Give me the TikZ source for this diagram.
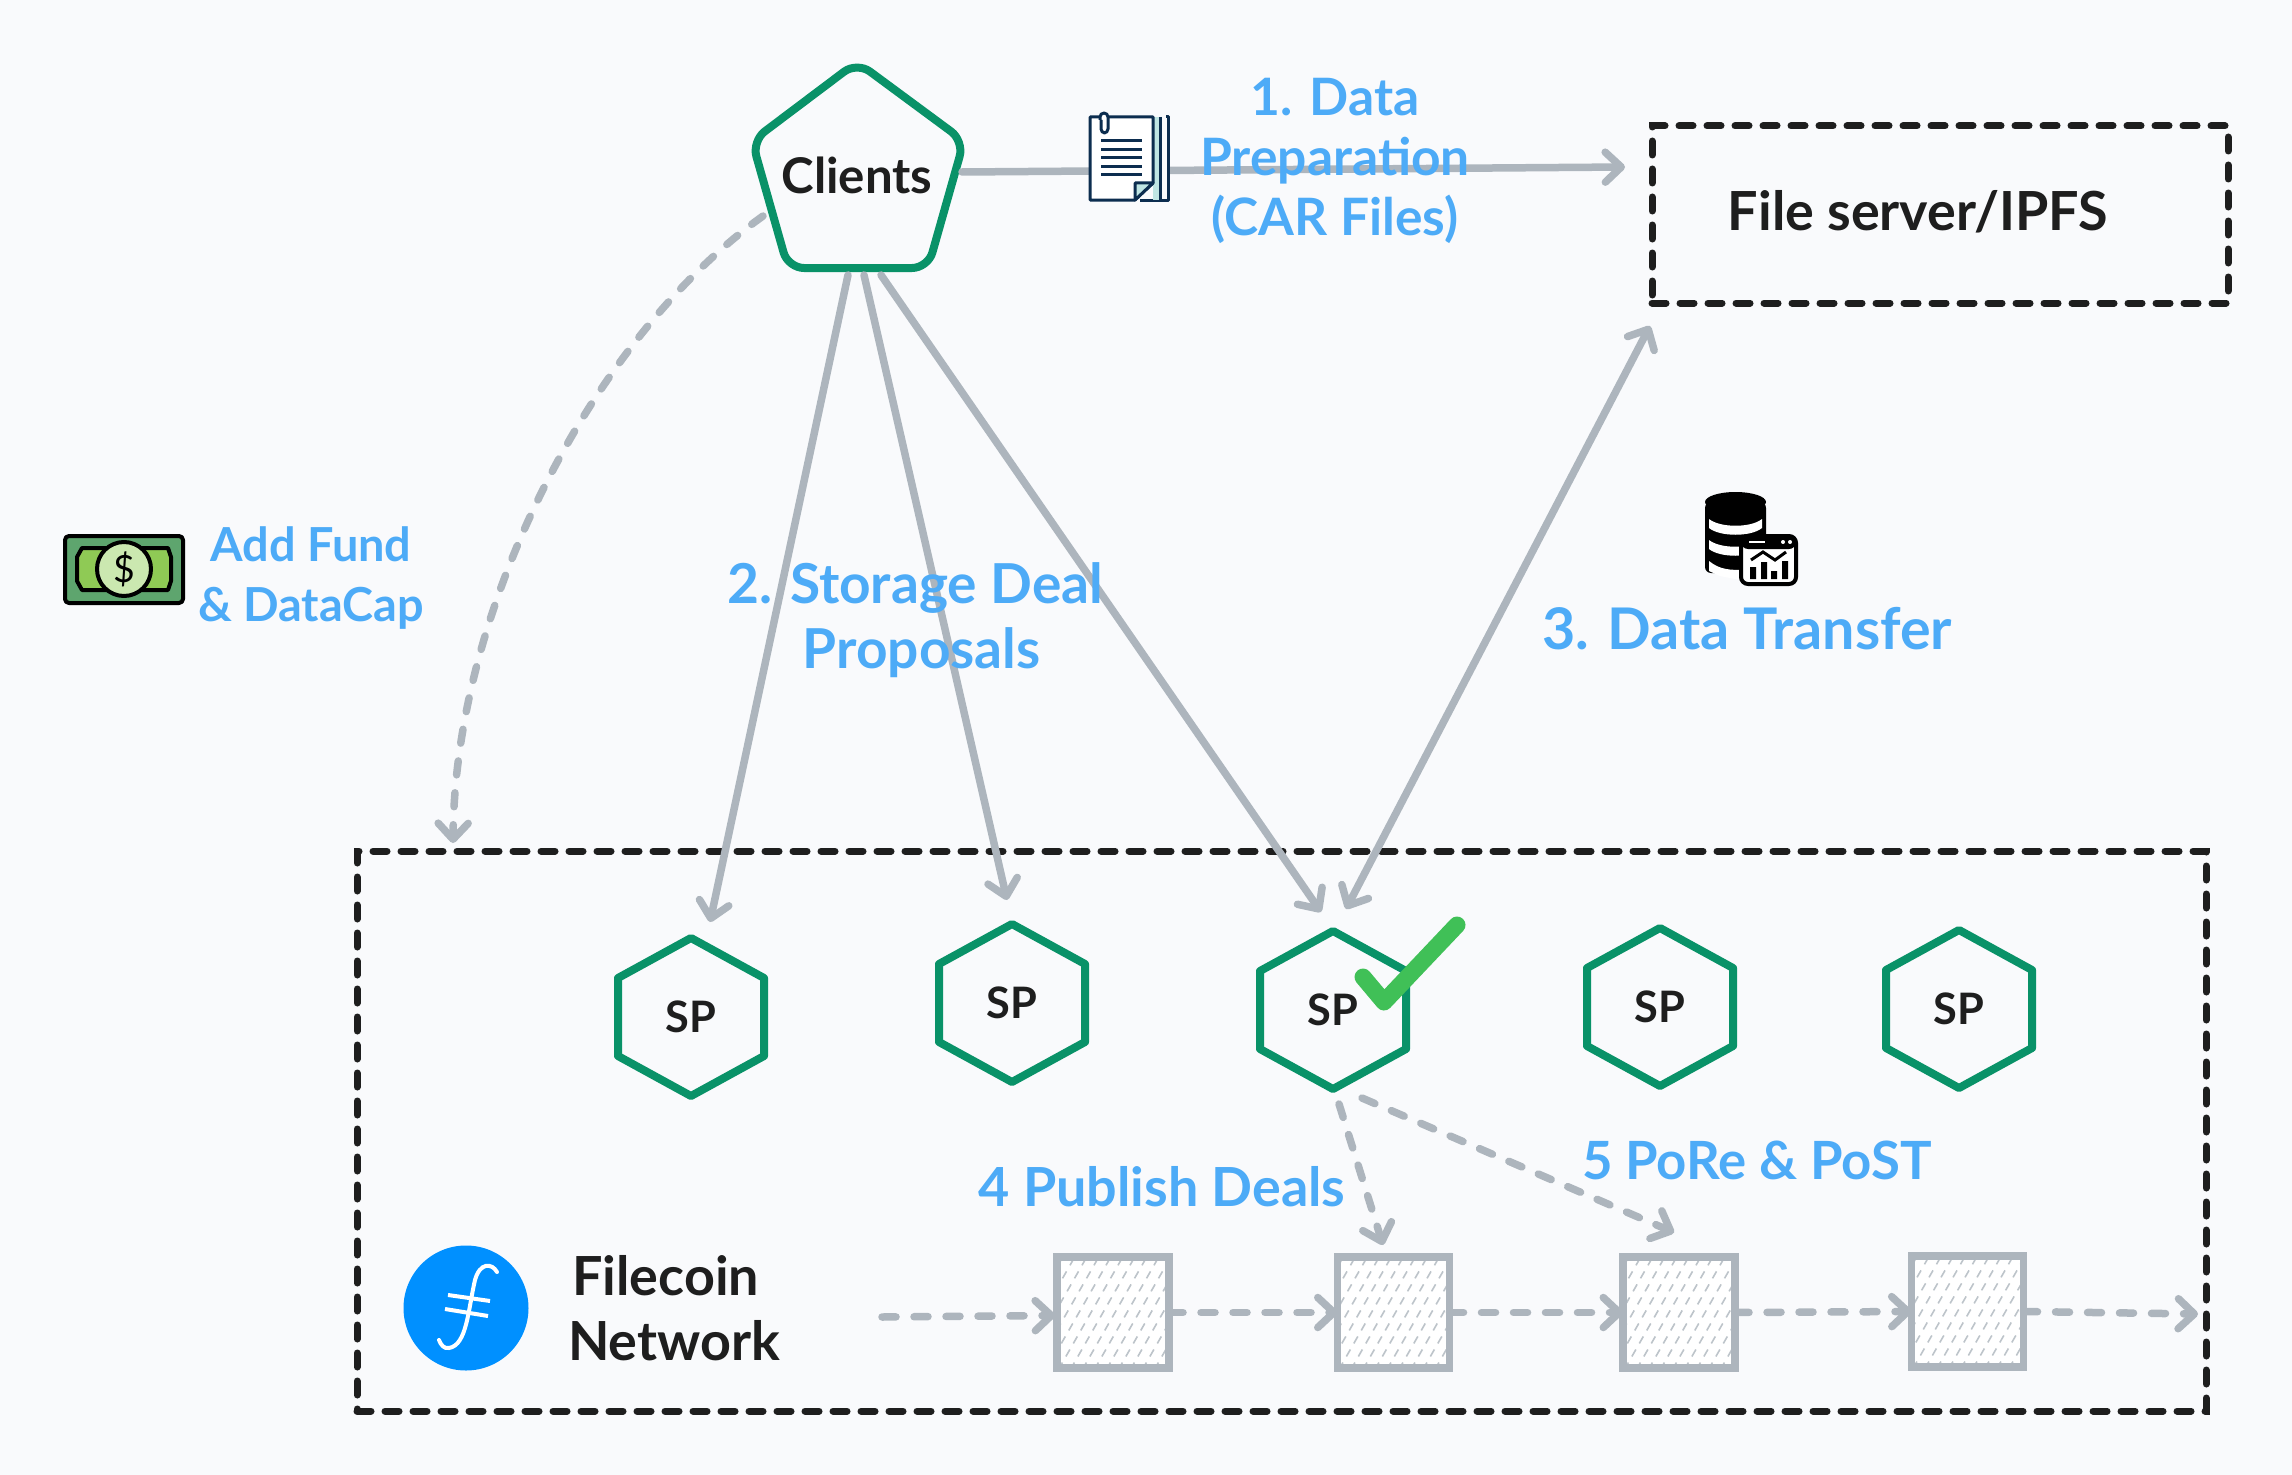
\documentclass[tikz,border=0pt]{standalone}
\usepackage{fontspec}
\setmainfont{Lato}[BoldFont={Lato Bold}]
\usetikzlibrary{arrows.meta,calc}
\definecolor{bgc}{HTML}{F9FAFC}
\definecolor{greenc}{HTML}{099268}
\definecolor{greyc}{HTML}{ADB5BD}
\definecolor{inkc}{HTML}{1E1E1E}
\definecolor{bluec}{HTML}{4DABF7}
\definecolor{navyc}{HTML}{0C2D4F}
\definecolor{tealc}{HTML}{BFE5E3}
\definecolor{fcblue}{HTML}{0090FF}
\definecolor{checkc}{HTML}{40C057}
\definecolor{billdark}{RGB}{94,165,110}
\definecolor{billmid}{RGB}{143,202,85}
\definecolor{billlight}{RGB}{203,232,176}
\def\px{0.3mm}
\tikzset{
  flow/.style={draw=greyc,line width=7.5*\px,line cap=round,line join=round,
    -{Straight Barb[length=16*\px,width=30*\px,line cap=round,line join=round]}},
  flowboth/.style={flow,{Straight Barb[length=16*\px,width=30*\px,line cap=round,line join=round]}-{Straight Barb[length=16*\px,width=30*\px,line cap=round,line join=round]}},
  dashflow/.style={flow,dash pattern=on 14*\px off 18*\px},
  frame/.style={draw=inkc,line width=7*\px,line cap=round,dash pattern=on 14*\px off 14*\px,outer sep=0pt,inner sep=0pt},
  hexline/.style={draw=greenc,line width=8*\px,line join=round,fill=bgc},
  sptext/.style={inner sep=0pt,outer sep=0pt,text=inkc,font=\bfseries\fontsize{37}{40}\selectfont,minimum width=146*\px,minimum height=158*\px},
  inktext/.style={text=inkc,font=\bfseries\fontsize{46}{55}\selectfont,align=center,inner sep=0pt},
  bluetext/.style={text=bluec,font=\bfseries\fontsize{44}{51}\selectfont,align=center,inner sep=0pt},
  chainblock/.style={draw=greyc,line width=7.5*\px,fill=white,minimum width=112*\px,minimum height=111*\px,outer sep=0pt,inner sep=0pt,
    path picture={\foreach \i in {-130,-118,...,130}{
      \draw[greyc!80,line width=1.6*\px,dash pattern=on 8*\px off 7*\px]
        ($(path picture bounding box.center)+(\i-40,70)$) -- ($(path picture bounding box.center)+(\i+40,-70)$);}}},
}
\newcommand{\hexsp}[2]{%
  \node[sptext] (#1) at (#2) {};
  \draw[hexline] (#1.north) -- ($(#1.north east)+(0,40)$) -- ($(#1.south east)+(0,-40)$) -- (#1.south)
     -- ($(#1.south west)+(0,-40)$) -- ($(#1.north west)+(0,40)$) -- cycle;
  \node[sptext] at (#1) {SP};}
\begin{document}
\begin{tikzpicture}[x=\px,y=-\px]
\fill[bgc] (0,0) rectangle (2292,1475);
\useasboundingbox (0,0) rectangle (2292,1475);

% frames
\node[frame,minimum width=576*\px,minimum height=177*\px] (fileserver) at (1940,214.5) {};
\node[frame,minimum width=1849*\px,minimum height=560*\px] (network) at (1281.5,1131) {};
\node[inktext] (fstext) at (1918,212) {File server/IPFS};

% clients
\node[inktext,minimum width=150*\px] (clients) at (857,175) {};
\draw[draw=greenc,line width=8*\px,rounded corners=16*\px,line join=round]
  (857,62) -- (964,141) -- (928,268) -- (788,268) -- (752,141) -- cycle;
\node[inktext,font=\bfseries\fontsize{42}{50}\selectfont] at (clients) {Clients};

% service providers
\hexsp{sp1}{691,1017}
\hexsp{sp2}{1012,1003}
\hexsp{sp3}{1333,1010}
\hexsp{sp4}{1660,1007}
\hexsp{sp5}{1959,1009}

% blocks
\node[chainblock] (b1) at (1113,1312.5) {};
\node[chainblock] (b2) at (1393.5,1312.5) {};
\node[chainblock] (b3) at (1679,1312.5) {};
\node[chainblock] (b4) at (1967.5,1311.5) {};
\coordinate (chainstart) at (882,1317);
\coordinate (chainend) at (2198,1314);

% connectors
\draw[flow] ([shift={(105,-3)}]clients.center) -- ([shift={(-27,-47.5)}]fileserver.west);
\draw[flow] ([shift={(-9,100)}]clients.center) -- ([shift={(19,-95)}]sp1.center);
\draw[flow] ([shift={(7,100)}]clients.center) -- ([shift={(-5,-103)}]sp2.center);
\draw[flow] ([shift={(24,100)}]clients.center) -- ([shift={(-12,-98)}]sp3.center);
\draw[flowboth] ([shift={(-290,111.5)}]fileserver.center) -- ([shift={(13,-101)}]sp3.center);
\draw[dashflow] ([shift={(-94,41)}]clients.center) .. controls (590,340) and (455,610) .. ([shift={(-828.5,-288)}]network.center);
\draw[dashflow] ([shift={(6,94)}]sp3.center) -- ([shift={(-10.5,-67.5)}]b2.center);
\draw[dashflow] ([shift={(29,88)}]sp3.center) -- ([shift={(-5,-80)}]b3.center);
\draw[dashflow] (chainstart) -- ([shift={(-2,3)}]b1.west);
\draw[dashflow] (b1.east) -- (b2.west);
\draw[dashflow] (b2.east) -- (b3.west);
\draw[dashflow] (b3.east) -- (b4.west);
\draw[dashflow] (b4.east) -- (chainend);

% check mark
\draw[draw=checkc,line width=17*\px,line cap=round,line join=round] (1363,977) -- (1384,1002) -- (1457,925);

% document icon
\begin{scope}[navyc,line width=3*\px,line join=round]
  \fill[bgc] (1089,116) rectangle (1169,201);
  \draw (1166,117) -- (1168,117) -- (1168,200) -- (1140,200);
  \fill[tealc] (1153,117) rectangle (1160,200);
  \draw (1160,117) -- (1160,200);
  \draw[fill=white] (1090,117) -- (1153,117) -- (1153,183) -- (1135,200) -- (1090,200) -- cycle;
  \draw[fill=tealc] (1153,183) -- (1135,183) -- (1135,200) -- cycle;
  \foreach \ly in {141,149.5,158,167,175} \draw (1101,\ly) -- (1142,\ly);
  \draw[fill=white,rounded corners=4*\px] (1100,120) -- (1100,113) -- (1108,113) -- (1108,133) -- (1101,133) -- (1101,120);
\end{scope}

% money icon
\begin{scope}[line width=4*\px,line join=round]
  \draw[draw=black,fill=billdark,rounded corners=4*\px] (65,536) rectangle (183,603);
  \draw[draw=black,fill=billmid] (82,548) -- (168,548) -- (171,557) -- (171,581) -- (168,590) -- (82,590) -- (77,581) -- (77,557) -- cycle;
  \draw[draw=black,fill=billlight] (124,569) circle (27);
\end{scope}
\node[inner sep=0pt,text=black,font=\fontsize{32}{32}\selectfont] (dollar) at (124,569) {\$};

% database icon
\begin{scope}
  \fill[black,rounded corners=6*\px] (1705,502) rectangle (1766,573);
  \fill[black] (1735.5,502) ellipse (30.5 and 10);
  \foreach \by in {526,547} {\fill[white] (1709,\by-7) .. controls (1720,\by+2) and (1751,\by+2) .. (1762,\by-7) -- (1762,\by+2) .. controls (1751,\by+11) and (1720,\by+11) .. (1709,\by+2) -- cycle;}
  \fill[white] (1709,561) .. controls (1720,570) and (1730,570) .. (1745,570) -- (1745,581) -- (1720,576) -- (1709,571) -- cycle;
  \draw[black,line width=2.5*\px,line cap=round] (1742,521) -- (1760,516);
  \draw[black,line width=4*\px,fill=white,rounded corners=7*\px] (1741,536) rectangle (1796,584);
  \fill[black,rounded corners=7*\px] (1741,536) -- (1796,536) -- (1796,549) -- (1741,549) -- cycle;
  \draw[white,line width=2.5*\px] (1749,542) -- (1765,542);
  \fill[white] (1783,542) circle (2) (1790,542) circle (2);
  \draw[black,line width=3*\px] (1751,560) -- (1763,552) -- (1775,560) -- (1786,552);
  \fill[black] (1750,567) rectangle (1756,579) (1761,562) rectangle (1767,579) (1771,571) rectangle (1777,579) (1782,561) rectangle (1788,579);
\end{scope}

% filecoin logo
\node[circle,fill=fcblue,minimum size=125*\px,inner sep=0pt,outer sep=0pt] (fclogo) at (466,1308) {};
\begin{scope}[white,line width=4*\px,line cap=round]
  \draw (497,1272) .. controls (492,1263) and (480,1262) .. (475,1280) .. controls (468,1310) and (467,1345) .. (449,1348) .. controls (444,1349) and (441,1345) .. (439,1340);
  \draw[line cap=butt] (448,1295) -- (490,1301);
  \draw[line cap=butt] (445,1309) -- (488,1316);
\end{scope}
\node[inktext] (fctext) at (674,1308) {Filecoin\hspace*{5mm}\\Network};

% labels
\node[bluetext] (l1) at (1335,161) {1. Data\\Preparation\\(CAR Files)};
\node[bluetext,font=\bfseries\fontsize{47}{55}\selectfont] (l2) at (915,620) {2. Storage Deal\\\hspace*{4mm}Proposals};
\node[bluetext,font=\bfseries\fontsize{49}{50}\selectfont] (l3) at (1747,629) {3. Data Transfer};
\node[bluetext,font=\bfseries\fontsize{40}{51}\selectfont] (l4) at (311,578) {Add Fund\\\& DataCap};
\node[bluetext,font=\bfseries\fontsize{46}{50}\selectfont] (l5) at (1162,1187) {4 Publish Deals};
\node[bluetext,font=\bfseries\fontsize{45}{50}\selectfont] (l6) at (1757,1160) {5 PoRe \& PoST};
\end{tikzpicture}
\end{document}
